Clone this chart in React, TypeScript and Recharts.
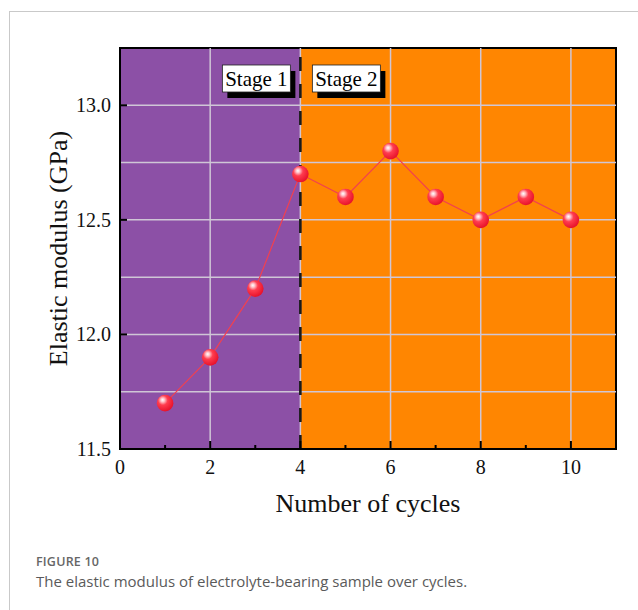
import React from 'react';
import {
  ComposedChart,
  Line,
  XAxis,
  YAxis,
  ReferenceArea,
  ReferenceLine,
  Label,
} from 'recharts';

// Cycle number and measured elastic modulus (GPa)
const cycles = [1, 2, 3, 4, 5, 6, 7, 8, 9, 10];
const modulus = [11.7, 11.9, 12.2, 12.7, 12.6, 12.8, 12.6, 12.5, 12.6, 12.5];

// Axis ticks and grid positions
const xTicks = [0, 1, 2, 3, 4, 5, 6, 7, 8, 9, 10];
const xGrid = [2, 4, 6, 8, 10];
const yTicks = [11.5, 12.0, 12.5, 13.0];
const yGrid = [11.75, 12.0, 12.25, 12.5, 12.75, 13.0];
const xDomain = [0, 11];
const yDomain = [11.5, 13.25];

// Stage split
const stageBoundary = 4;
const stageNames = ['Stage 1', 'Stage 2'];

const data = cycles.map((c, i) => ({ cycle: c, modulus: modulus[i] }));

const SERIF = '"Liberation Serif", "Times New Roman", serif';
const PURPLE = '#8c50a6';
const ORANGE = '#ff8601';
const GRID = '#cfc6d6';

const XTick = (props: any) => {
  const { x, y, payload } = props;
  const v = payload.value;
  const major = v % 2 === 0;
  return (
    <g>
      {v !== 0 && (
        <line x1={x} x2={x} y1={y} y2={y - (major ? 8 : 4)} stroke="#000" strokeWidth={2} />
      )}
      {major && (
        <text x={x} y={y + 25} textAnchor="middle" fontFamily={SERIF} fontSize={20} fill="#111">
          {v}
        </text>
      )}
    </g>
  );
};

const YTick = (props: any) => {
  const { x, y, payload } = props;
  const v = payload.value;
  return (
    <g>
      {v !== yDomain[0] && (
        <line x1={x} x2={x + 7} y1={y} y2={y} stroke="#000" strokeWidth={2} />
      )}
      <text x={x - 9} y={y} dy="0.35em" textAnchor="end" fontFamily={SERIF} fontSize={20} fill="#111">
        {v.toFixed(1)}
      </text>
    </g>
  );
};

const Ball = (props: any) => {
  const { cx, cy, index } = props;
  if (cx == null || cy == null) return null;
  const id = `ball-grad-${index}`;
  return (
    <g>
      <defs>
        <radialGradient id={id} cx="38%" cy="35%" r="65%" fx="35%" fy="30%">
          <stop offset="0%" stopColor="#ffffff" />
          <stop offset="18%" stopColor="#ffc2c8" />
          <stop offset="45%" stopColor="#ff3d4f" />
          <stop offset="100%" stopColor="#e8132c" />
        </radialGradient>
      </defs>
      <circle cx={cx} cy={cy} r={8.3} fill={`url(#${id})`} />
    </g>
  );
};

const StageLabels = (props: any) => {
  const { viewBox } = props;
  if (!viewBox) return null;
  const lx = viewBox.x;
  const top = viewBox.y;
  const boxes = [
    { x: lx - 78, name: stageNames[0] },
    { x: lx + 12, name: stageNames[1] },
  ];
  return (
    <g>
      {boxes.map((b) => (
        <g key={b.name}>
          <rect x={b.x + 5} y={top + 23} width={68} height={27} fill="#000" />
          <rect x={b.x} y={top + 17} width={68} height={27} fill="#fff" stroke="#222" strokeWidth={0.8} />
          <text
            x={b.x + 34}
            y={top + 38}
            textAnchor="middle"
            fontFamily={SERIF}
            fontSize={21}
            fill="#000"
          >
            {b.name}
          </text>
        </g>
      ))}
    </g>
  );
};

export default function App() {
  return (
    <div
      style={{
        position: 'absolute',
        left: 0,
        top: 0,
        width: 638,
        height: 610,
        overflow: 'hidden',
        background: '#fff',
      }}
    >
      <div
        style={{
          position: 'absolute',
          left: 9,
          top: 11,
          width: 700,
          height: 700,
          border: '1px solid #c9c9c9',
        }}
      />
      <div style={{ position: 'absolute', left: 0, top: 0 }}>
        <ComposedChart
          width={638}
          height={540}
          data={data}
          margin={{ top: 48, right: 22, bottom: 21, left: 60 }}
        >
          <ReferenceArea x1={xDomain[0]} x2={stageBoundary} y1={yDomain[0]} y2={yDomain[1]} fill={PURPLE} fillOpacity={1} stroke="none" ifOverflow="visible" />
          <ReferenceArea x1={stageBoundary} x2={xDomain[1]} y1={yDomain[0]} y2={yDomain[1]} fill={ORANGE} fillOpacity={1} stroke="none" ifOverflow="visible" />
          {xGrid.map((v) => (
            <ReferenceLine key={`gx${v}`} x={v} stroke={GRID} strokeWidth={1.5} />
          ))}
          {yGrid.map((v) => (
            <ReferenceLine key={`gy${v}`} y={v} stroke={GRID} strokeWidth={1.5} />
          ))}
          <ReferenceLine
            x={stageBoundary}
            stroke="#1a1a1a"
            strokeWidth={2.6}
            strokeDasharray="14 13"
            label={<StageLabels />}
          />
          <XAxis
            dataKey="cycle"
            type="number"
            domain={xDomain}
            ticks={xTicks}
            interval={0}
            allowDataOverflow
            tickSize={0}
            tickMargin={0}
            tickLine={false}
            axisLine={{ stroke: '#000', strokeWidth: 2 }}
            tick={<XTick />}
            height={70}
          >
            <Label
              content={(p: any) => {
                const vb = p.viewBox;
                return (
                  <text
                    x={vb.x + vb.width / 2}
                    y={vb.y + 63}
                    textAnchor="middle"
                    fontFamily={SERIF}
                    fontSize={26}
                    fill="#111"
                  >
                    Number of cycles
                  </text>
                );
              }}
            />
          </XAxis>
          <YAxis
            type="number"
            domain={yDomain}
            ticks={yTicks}
            interval={0}
            allowDataOverflow
            tickSize={0}
            tickMargin={0}
            tickLine={false}
            axisLine={{ stroke: '#000', strokeWidth: 2 }}
            tick={<YTick />}
            width={60}
          >
            <Label
              content={(p: any) => {
                const vb = p.viewBox;
                const cx = vb.x + 7;
                const cy = vb.y + vb.height / 2;
                return (
                  <text
                    x={cx}
                    y={cy}
                    transform={`rotate(-90, ${cx}, ${cy})`}
                    textAnchor="middle"
                    fontFamily={SERIF}
                    fontSize={26}
                    fill="#111"
                  >
                    Elastic modulus (GPa)
                  </text>
                );
              }}
            />
          </YAxis>
          <Line
            type="linear"
            dataKey="modulus"
            stroke="#f2404f"
            strokeWidth={1.2}
            dot={<Ball />}
            activeDot={false}
            isAnimationActive={false}
          />
          <ReferenceArea
            x1={xDomain[0]}
            x2={xDomain[1]}
            y1={yDomain[0]}
            y2={yDomain[1]}
            fill="none"
            stroke="#000"
            strokeWidth={2}
            ifOverflow="visible"
          />
        </ComposedChart>
      </div>
      <div
        style={{
          position: 'absolute',
          left: 36,
          top: 553,
          fontFamily: '"Open Sans", Lato, sans-serif',
          color: '#666',
        }}
      >
        <div style={{ fontSize: 12.5, fontWeight: 600, letterSpacing: 0.2, lineHeight: '17px' }}>FIGURE 10</div>
        <div style={{ fontSize: 15, lineHeight: '22px', color: '#5a5a5a' }}>
          The elastic modulus of electrolyte-bearing sample over cycles.
        </div>
      </div>
    </div>
  );
}
